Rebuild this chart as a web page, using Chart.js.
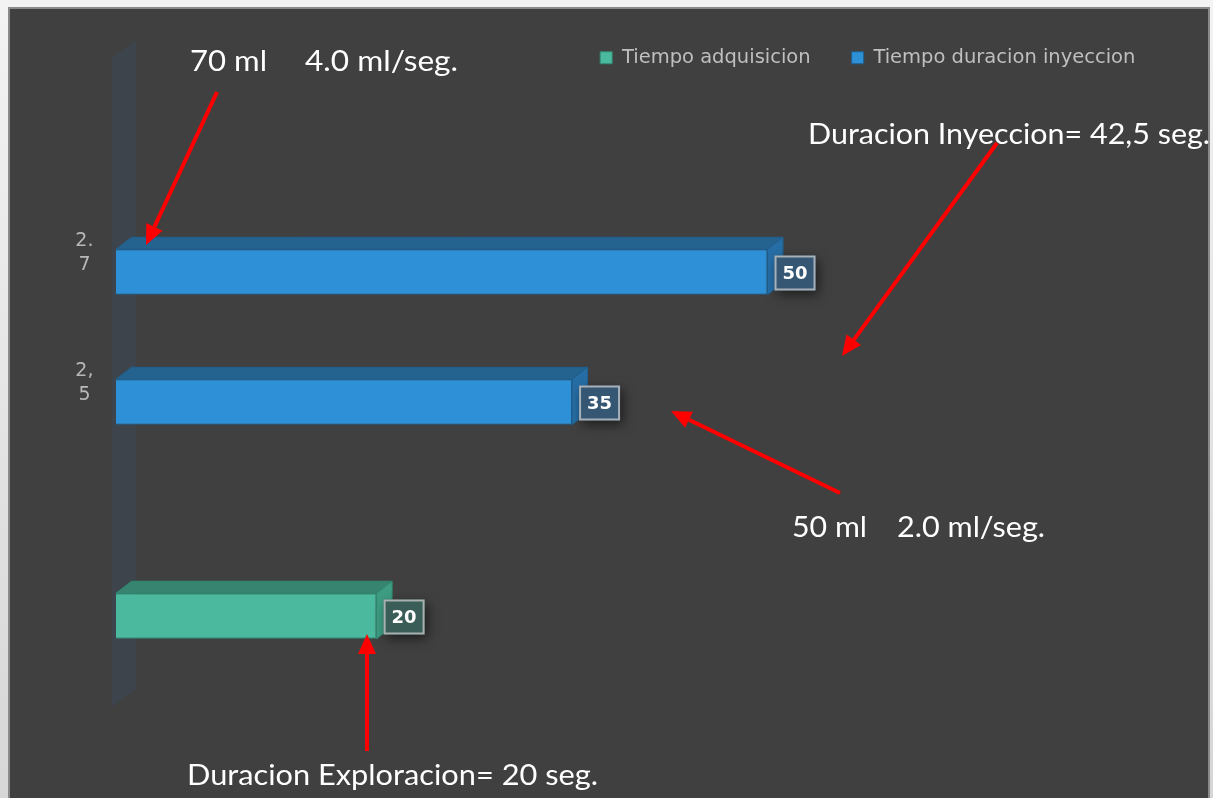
<!DOCTYPE html>
<html><head><meta charset="utf-8">
<script src="https://cdn.jsdelivr.net/npm/chart.js@4.4.0/dist/chart.umd.min.js"></script>
<style>
html,body{margin:0;padding:0;width:1213px;height:798px;overflow:hidden;background:linear-gradient(#f3f3f3,#d6d6d6);}
#frame{position:absolute;left:8px;top:7px;width:1202px;height:800px;box-sizing:border-box;border:2px solid #8a8a8a;background:#404040;}
#wrap{position:absolute;left:0;top:0;width:1213px;height:798px;}
</style></head><body>
<div id="frame"></div>
<div id="wrap"><canvas id="c" width="1213" height="798"></canvas></div>
<script>
// ---- data ----
const categories = [['2.', '7'], ['2,', '5'], ''];
const seriesNames = ['Tiempo adquisicion', 'Tiempo duracion inyeccion'];
const tiempoAdquisicion = [null, null, 20];
const tiempoInyeccion = [50, 35, null];
const annotations = [
  {text: '70 ml', x: 190, y: 71, w: 77},
  {text: '4.0 ml/seg.', x: 305, y: 71, w: 153},
  {text: 'Duracion Inyeccion= 42,5 seg.', x: 808, y: 144, w: 402},
  {text: '50 ml', x: 792, y: 537, w: 75},
  {text: '2.0 ml/seg.', x: 897, y: 537, w: 148},
  {text: 'Duracion Exploracion= 20 seg.', x: 187, y: 785, w: 411}
];
const arrows = [
  [217, 92, 146, 245],
  [997, 143, 842, 356],
  [840, 493, 671, 411],
  [367, 751, 367, 634]
];

const DX = 15.5, DY = 12;
const PAD_TOP = 38, LEGEND_FONT = 19.5;

const wallPlugin = {
  id: 'wall',
  beforeDatasetsDraw(chart) {
    const {ctx, chartArea: a} = chart;
    ctx.save();
    ctx.fillStyle = '#3d444c';
    ctx.beginPath();
    ctx.moveTo(a.left - 4, a.top - 192);
    ctx.lineTo(a.left + 20, a.top - 209);
    ctx.lineTo(a.left + 20, a.bottom + 50);
    ctx.lineTo(a.left - 4, a.bottom + 68);
    ctx.closePath();
    ctx.fill();
    ctx.restore();
  }
};

const bar3dPlugin = {
  id: 'bar3d',
  afterDatasetsDraw(chart) {
    const ctx = chart.ctx;
    chart.data.datasets.forEach((ds, di) => {
      const meta = chart.getDatasetMeta(di);
      meta.data.forEach((bar, i) => {
        const v = ds.data[i];
        if (v == null) return;
        const p = bar.getProps(['x', 'y', 'base', 'height'], true);
        const t = p.y - p.height / 2, b = p.y + p.height / 2;
        const x0 = p.base, x1 = p.x;
        ctx.save();
        ctx.lineWidth = 1;
        ctx.strokeStyle = ds.borderColor;
        // top face
        ctx.fillStyle = ds.topColor;
        ctx.beginPath();
        ctx.moveTo(x0, t); ctx.lineTo(x0 + DX, t - DY); ctx.lineTo(x1 + DX, t - DY); ctx.lineTo(x1, t);
        ctx.closePath(); ctx.fill(); ctx.stroke();
        // right face
        ctx.fillStyle = ds.sideColor;
        ctx.beginPath();
        ctx.moveTo(x1, t); ctx.lineTo(x1 + DX, t - DY); ctx.lineTo(x1 + DX, b - DY); ctx.lineTo(x1, b);
        ctx.closePath(); ctx.fill(); ctx.stroke();
        // value label box
        const bw = 41, bh = 35, bx = x1 + 7, by = p.y - bh / 2 + 1;
        ctx.shadowColor = 'rgba(0,0,0,0.55)';
        ctx.shadowBlur = 12; ctx.shadowOffsetX = 3; ctx.shadowOffsetY = 4;
        ctx.fillStyle = ds.labelFill;
        ctx.fillRect(bx, by, bw, bh);
        ctx.shadowColor = 'transparent';
        ctx.strokeStyle = 'rgba(205,205,205,0.75)';
        ctx.lineWidth = 2;
        ctx.strokeRect(bx + 1, by + 1, bw - 2, bh - 2);
        ctx.fillStyle = '#ffffff';
        ctx.font = 'bold 18px "DejaVu Sans", sans-serif';
        ctx.textAlign = 'center'; ctx.textBaseline = 'middle';
        ctx.fillText(String(v), bx + bw / 2, by + bh / 2 + 1);
        ctx.restore();
      });
    });
  }
};

const annotationPlugin = {
  id: 'notes',
  afterDraw(chart) {
    const ctx = chart.ctx;
    ctx.save();
    ctx.fillStyle = '#ffffff';
    ctx.textBaseline = 'alphabetic';
    ctx.textAlign = 'left';
    annotations.forEach(n => {
      ctx.font = '29px Lato, "Open Sans", sans-serif';
      const m = ctx.measureText(n.text).width;
      ctx.save();
      ctx.translate(n.x, n.y);
      ctx.scale(n.w / m, 1);
      ctx.fillText(n.text, 0, 0);
      ctx.restore();
    });
    ctx.strokeStyle = '#ff0000';
    ctx.fillStyle = '#ff0000';
    ctx.lineWidth = 4;
    arrows.forEach(([x1, y1, x2, y2]) => {
      const ang = Math.atan2(y2 - y1, x2 - x1);
      const hl = 20, hw = 9;
      const bx = x2 - hl * Math.cos(ang), by = y2 - hl * Math.sin(ang);
      ctx.beginPath();
      ctx.moveTo(x1, y1); ctx.lineTo(bx, by); ctx.stroke();
      ctx.beginPath();
      ctx.moveTo(x2, y2);
      ctx.lineTo(bx + hw * Math.sin(ang), by - hw * Math.cos(ang));
      ctx.lineTo(bx - hw * Math.sin(ang), by + hw * Math.cos(ang));
      ctx.closePath(); ctx.fill();
    });
    ctx.restore();
  }
};

new Chart(document.getElementById('c'), {
  type: 'bar',
  data: {
    labels: categories,
    datasets: [
      {label: seriesNames[1], data: tiempoInyeccion, backgroundColor: '#2e90d6', borderColor: '#1f5f8f',
       topColor: '#24638f', sideColor: '#276ea6', labelFill: '#365773',
       borderWidth: 1, categoryPercentage: 1.2923, barPercentage: 0.5417},
      {label: seriesNames[0], data: tiempoAdquisicion, backgroundColor: '#4bb99d', borderColor: '#2f8a71',
       topColor: '#378470', sideColor: '#3e9d83', labelFill: '#3a5e57',
       borderWidth: 1, categoryPercentage: 1.2923, barPercentage: 0.5417}
    ]
  },
  options: {
    indexAxis: 'y',
    responsive: false,
    animation: false,
    layout: {padding: {left: 50, top: PAD_TOP, right: 67.6, bottom: 159}},
    plugins: {
      tooltip: {enabled: false},
      legend: {
        position: 'top', align: 'end', reverse: true,
        labels: {
          color: '#bfbfbf', boxWidth: 12, boxHeight: 12, padding: 10,
          font: {family: '"DejaVu Sans", sans-serif', size: LEGEND_FONT},
          generateLabels(chart) {
            const items = Chart.defaults.plugins.legend.labels.generateLabels(chart);
            items.forEach(it => { if (it.datasetIndex === 1) it.text = it.text + '     '; });
            return items;
          }
        }
      }
    },
    scales: {
      x: {
        type: 'linear', min: 0, max: 79, position: 'top', display: true,
        ticks: {display: false}, grid: {display: false}, border: {display: false},
        afterFit(s) { s.height = 249 - PAD_TOP - (LEGEND_FONT + 10 + 10); }
      },
      y: {
        type: 'category', offset: true,
        grid: {display: false}, border: {display: false},
        ticks: {color: '#b8b8b8', font: {family: '"DejaVu Sans", sans-serif', size: 19, lineHeight: 1.3},
                crossAlign: 'center', labelOffset: -61, padding: 14.5},
        afterFit(s) { s.width = 66; }
      }
    }
  },
  plugins: [wallPlugin, bar3dPlugin, annotationPlugin]
});
</script>
</body></html>
